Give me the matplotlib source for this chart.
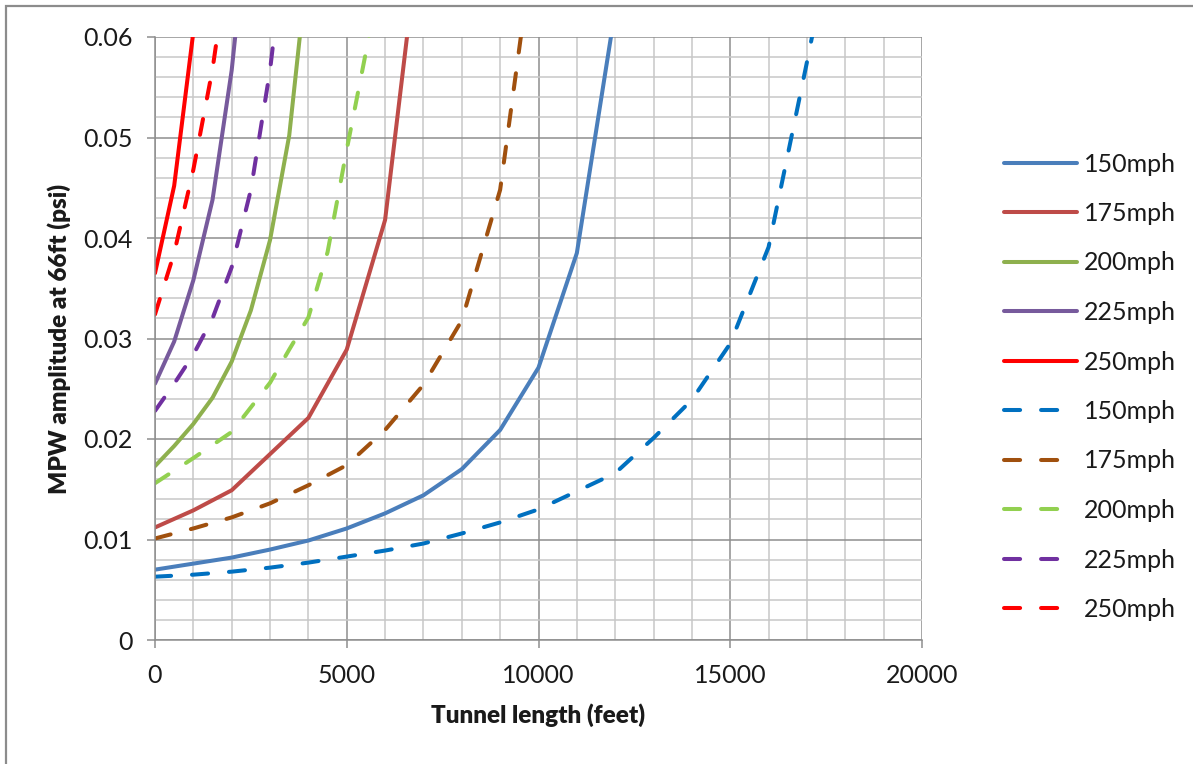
import matplotlib
matplotlib.use("Agg")
import matplotlib.pyplot as plt
from matplotlib.ticker import MultipleLocator, FuncFormatter
from matplotlib.patches import Rectangle

plt.rcParams['font.family'] = ['Lato', 'DejaVu Sans']

# ---- data (tunnel length in feet, MPW amplitude in psi) ----
labels = ["150mph", "175mph", "200mph", "225mph", "250mph",
          "150mph", "175mph", "200mph", "225mph", "250mph"]

x_150_solid = [0, 1000, 2000, 3000, 4000, 5000, 6000, 7000, 8000, 9000, 10000, 11000, 12000]
y_150_solid = [0.0070, 0.0076, 0.0082, 0.0090, 0.0099, 0.0111, 0.0126, 0.0144, 0.0170, 0.0209, 0.0271, 0.0385, 0.0627]

x_175_solid = [0, 1000, 2000, 3000, 4000, 5000, 6000, 7000]
y_175_solid = [0.0112, 0.0129, 0.0149, 0.0185, 0.0221, 0.0289, 0.0418, 0.0737]

x_200_solid = [0, 500, 1000, 1500, 2000, 2500, 3000, 3500, 4000]
y_200_solid = [0.0173, 0.0193, 0.0215, 0.0241, 0.0277, 0.0328, 0.0398, 0.0502, 0.0680]

x_225_solid = [0, 500, 1000, 1500, 2000, 2500]
y_225_solid = [0.0255, 0.0297, 0.0358, 0.0438, 0.0567, 0.0750]

x_250_solid = [0, 500, 1000, 1500]
y_250_solid = [0.0365, 0.0452, 0.0605, 0.0800]

x_150_dash = [0, 1000, 2000, 3000, 4000, 5000, 6000, 7000, 8000, 9000, 10000, 11000, 12000, 13000, 14000, 15000, 16000, 17000, 18000]
y_150_dash = [0.0063, 0.0065, 0.0068, 0.0072, 0.0077, 0.0083, 0.0089, 0.0096, 0.0106, 0.0117, 0.0130, 0.0148, 0.0166, 0.0201, 0.0239, 0.0295, 0.0391, 0.0575, 0.0765]

x_175_dash = [0, 1000, 2000, 3000, 4000, 5000, 6000, 7000, 8000, 9000, 10000]
y_175_dash = [0.0101, 0.0111, 0.0122, 0.0136, 0.0154, 0.0174, 0.0209, 0.0254, 0.0318, 0.0448, 0.0730]

x_200_dash = [0, 1000, 2000, 3000, 3500, 4000, 4500, 5000, 5500, 6000]
y_200_dash = [0.0156, 0.0181, 0.0207, 0.0256, 0.0289, 0.0321, 0.0386, 0.0488, 0.0585, 0.0690]

x_225_dash = [0, 500, 1000, 1500, 2000, 2500, 3000, 3500]
y_225_dash = [0.0228, 0.0255, 0.0284, 0.0320, 0.0371, 0.0448, 0.0567, 0.0730]

x_250_dash = [0, 500, 1000, 1500, 2000]
y_250_dash = [0.0324, 0.0385, 0.0468, 0.0568, 0.0700]

series = [
    (x_150_solid, y_150_solid, "#4A7EBB", "-"),
    (x_175_solid, y_175_solid, "#BE4B48", "-"),
    (x_200_solid, y_200_solid, "#8EB04E", "-"),
    (x_225_solid, y_225_solid, "#775A9C", "-"),
    (x_250_solid, y_250_solid, "#FF0000", "-"),
    (x_150_dash, y_150_dash, "#0070C0", "--"),
    (x_175_dash, y_175_dash, "#A0500E", "--"),
    (x_200_dash, y_200_dash, "#92D050", "--"),
    (x_225_dash, y_225_dash, "#7030A0", "--"),
    (x_250_dash, y_250_dash, "#FF0000", "--"),
]

W, H = 1193, 764
fig = plt.figure(figsize=(W / 100, H / 100), dpi=100)
fig.patch.set_facecolor("white")

# outer chart frame
fig.patches.append(Rectangle((6 / W, -0.05), 1.2, (764 - 6) / H + 0.05,
                             transform=fig.transFigure, fill=False,
                             edgecolor="#8C8C8C", linewidth=1.6))

ax = fig.add_axes([155 / W, (H - 640) / H, 767 / W, 603 / H])

lw = 2.9
handles = []
for (xs, ys, c, ls), lab in zip(series, labels):
    if ls == "-":
        h, = ax.plot(xs, ys, color=c, lw=lw, solid_capstyle="round",
                     solid_joinstyle="round", label=lab)
    else:
        h, = ax.plot(xs, ys, color=c, lw=lw, dash_capstyle="round",
                     label=lab)
        h.set_dashes((4.0, 5.2))
    handles.append(h)

ax.set_xlim(0, 20000)
ax.set_ylim(0, 0.06)
ax.xaxis.set_major_locator(MultipleLocator(5000))
ax.xaxis.set_minor_locator(MultipleLocator(1000))
ax.yaxis.set_major_locator(MultipleLocator(0.01))
ax.yaxis.set_minor_locator(MultipleLocator(0.002))
ax.yaxis.set_major_formatter(FuncFormatter(lambda v, p: "0" if abs(v) < 1e-9 else f"{v:.2f}"))

ax.grid(which="minor", color="#C8C8C8", linewidth=1.1)
ax.grid(which="major", color="#8E8E8E", linewidth=1.1)
ax.set_axisbelow(True)

for s in ["top", "right"]:
    ax.spines[s].set_visible(False)
for s in ["left", "bottom"]:
    ax.spines[s].set_color("#8E8E8E")
    ax.spines[s].set_linewidth(1.1)

ax.tick_params(which="major", direction="out", length=6, width=1.1,
               color="#8E8E8E", labelsize=18, labelcolor="#1A1A1A", pad=10)
ax.tick_params(axis="x", which="major", pad=11)
ax.tick_params(which="minor", length=0)

ax.set_xlabel("Tunnel length (feet)", fontsize=17.5, fontweight="heavy",
              color="#1A1A1A", labelpad=12)
ax.set_ylabel("MPW amplitude at 66ft (psi)", fontsize=17.5, fontweight="heavy",
              color="#1A1A1A", labelpad=9)

leg = fig.legend(handles=handles, labels=labels, loc="upper left",
                 bbox_to_anchor=(1004 / W, 1 - 152.5 / H), frameon=False,
                 fontsize=18, handlelength=2.92, handletextpad=0.28,
                 labelspacing=1.06, borderaxespad=0, borderpad=0)
for t in leg.get_texts():
    t.set_color("#1A1A1A")

fig.savefig("out.png", dpi=100)
